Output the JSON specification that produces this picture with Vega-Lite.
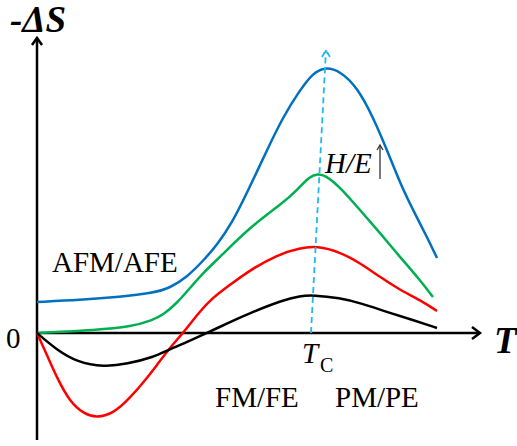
{
  "$schema": "https://vega.github.io/schema/vega-lite/v6.json",
  "width": 517,
  "height": 446,
  "autosize": {"type": "fit", "contains": "padding"},
  "padding": 0,
  "background": "white",
  "config": {"view": {"stroke": null}},
  "datasets": {
    "curves": [
      {"s": "blue", "x": 0, "y": 31}, {"s": "blue", "x": 43, "y": 33}, {"s": "blue", "x": 83, "y": 36}, {"s": "blue", "x": 116, "y": 40}, {"s": "blue", "x": 133, "y": 45}, {"s": "blue", "x": 150, "y": 56}, {"s": "blue", "x": 166, "y": 72}, {"s": "blue", "x": 180, "y": 88}, {"s": "blue", "x": 195, "y": 110}, {"s": "blue", "x": 210, "y": 140}, {"s": "blue", "x": 230, "y": 183}, {"s": "blue", "x": 246, "y": 216}, {"s": "blue", "x": 263, "y": 243}, {"s": "blue", "x": 276, "y": 260}, {"s": "blue", "x": 288, "y": 266}, {"s": "blue", "x": 303, "y": 262}, {"s": "blue", "x": 320, "y": 246}, {"s": "blue", "x": 336, "y": 216}, {"s": "blue", "x": 350, "y": 183}, {"s": "blue", "x": 363, "y": 150}, {"s": "blue", "x": 376, "y": 123}, {"s": "blue", "x": 390, "y": 96}, {"s": "blue", "x": 400, "y": 75},
      {"s": "green", "x": 0, "y": 0}, {"s": "green", "x": 60, "y": 3}, {"s": "green", "x": 93, "y": 6}, {"s": "green", "x": 116, "y": 13}, {"s": "green", "x": 126, "y": 18}, {"s": "green", "x": 140, "y": 30}, {"s": "green", "x": 153, "y": 45}, {"s": "green", "x": 166, "y": 60}, {"s": "green", "x": 183, "y": 76}, {"s": "green", "x": 213, "y": 106}, {"s": "green", "x": 246, "y": 130}, {"s": "green", "x": 260, "y": 143}, {"s": "green", "x": 273, "y": 157}, {"s": "green", "x": 281, "y": 159}, {"s": "green", "x": 288, "y": 158}, {"s": "green", "x": 303, "y": 146}, {"s": "green", "x": 323, "y": 123}, {"s": "green", "x": 343, "y": 100}, {"s": "green", "x": 363, "y": 76}, {"s": "green", "x": 383, "y": 53}, {"s": "green", "x": 396, "y": 36},
      {"s": "red", "x": 0, "y": 0}, {"s": "red", "x": 10, "y": -22}, {"s": "red", "x": 20, "y": -45}, {"s": "red", "x": 33, "y": -69}, {"s": "red", "x": 47, "y": -81}, {"s": "red", "x": 60, "y": -85}, {"s": "red", "x": 77, "y": -80}, {"s": "red", "x": 93, "y": -65}, {"s": "red", "x": 110, "y": -45}, {"s": "red", "x": 120, "y": -32}, {"s": "red", "x": 131, "y": -17}, {"s": "red", "x": 146, "y": 0}, {"s": "red", "x": 160, "y": 18}, {"s": "red", "x": 173, "y": 33}, {"s": "red", "x": 190, "y": 46}, {"s": "red", "x": 213, "y": 63}, {"s": "red", "x": 240, "y": 78}, {"s": "red", "x": 263, "y": 85}, {"s": "red", "x": 280, "y": 87}, {"s": "red", "x": 303, "y": 81}, {"s": "red", "x": 323, "y": 70}, {"s": "red", "x": 343, "y": 56}, {"s": "red", "x": 363, "y": 43}, {"s": "red", "x": 383, "y": 33}, {"s": "red", "x": 400, "y": 22},
      {"s": "black", "x": 0, "y": 0}, {"s": "black", "x": 20, "y": -17}, {"s": "black", "x": 40, "y": -29}, {"s": "black", "x": 67, "y": -34}, {"s": "black", "x": 90, "y": -31}, {"s": "black", "x": 117, "y": -24}, {"s": "black", "x": 131, "y": -17}, {"s": "black", "x": 150, "y": -9}, {"s": "black", "x": 170, "y": 0}, {"s": "black", "x": 193, "y": 11}, {"s": "black", "x": 213, "y": 20}, {"s": "black", "x": 246, "y": 33}, {"s": "black", "x": 263, "y": 37}, {"s": "black", "x": 276, "y": 38}, {"s": "black", "x": 303, "y": 35}, {"s": "black", "x": 323, "y": 30}, {"s": "black", "x": 350, "y": 21}, {"s": "black", "x": 376, "y": 13}, {"s": "black", "x": 400, "y": 5}
    ],
    "axes": [
      {"g": "v", "i": 0, "x": 0, "y": -107}, {"g": "v", "i": 1, "x": 0, "y": 294},
      {"g": "vh", "i": 0, "x": -5, "y": 288}, {"g": "vh", "i": 1, "x": 0, "y": 295}, {"g": "vh", "i": 2, "x": 5, "y": 288},
      {"g": "h", "i": 0, "x": 0, "y": 0}, {"g": "h", "i": 1, "x": 442, "y": 0},
      {"g": "hh", "i": 0, "x": 435, "y": 6}, {"g": "hh", "i": 1, "x": 443, "y": 0}, {"g": "hh", "i": 2, "x": 435, "y": -6}
    ],
    "tc": [
      {"g": "tc", "i": 0, "x": 274, "y": 0}, {"g": "tc", "i": 1, "x": 289, "y": 283},
      {"g": "tch", "i": 0, "x": 285, "y": 276}, {"g": "tch", "i": 1, "x": 289, "y": 283}, {"g": "tch", "i": 2, "x": 293, "y": 276}
    ],
    "harrow": [
      {"g": "ha", "i": 0, "x": 343, "y": 154}, {"g": "ha", "i": 1, "x": 343, "y": 188},
      {"g": "hah", "i": 0, "x": 340, "y": 183}, {"g": "hah", "i": 1, "x": 343, "y": 188}, {"g": "hah", "i": 2, "x": 346, "y": 183}
    ],
    "texts": [
      {"role": "axistitle", "x": -27, "y": 301, "t": "-ΔS"},
      {"role": "axistitle", "x": 457, "y": -20, "t": "T"},
      {"role": "label", "x": -31, "y": -15, "t": "0"},
      {"role": "label", "x": 15, "y": 61, "t": "AFM/AFE"},
      {"role": "label", "x": 178, "y": -74, "t": "FM/FE"},
      {"role": "label", "x": 298, "y": -74, "t": "PM/PE"},
      {"role": "symbol", "x": 265, "y": -30, "t": "T"},
      {"role": "symbol", "x": 288, "y": 160, "t": "H/E"},
      {"role": "sub", "x": 283, "y": -39, "t": "C"}
    ]
  },
  "encoding": {
    "x": {"field": "x", "type": "quantitative", "scale": {"domain": [-37, 480], "nice": false, "zero": false}, "axis": null},
    "y": {"field": "y", "type": "quantitative", "scale": {"domain": [-113, 333], "nice": false, "zero": false}, "axis": null}
  },
  "layer": [
    {
      "data": {"name": "axes"},
      "mark": {"type": "line", "color": "black", "strokeWidth": 2.5, "strokeCap": "butt", "strokeJoin": "miter"},
      "encoding": {"detail": {"field": "g"}, "order": {"field": "i"}}
    },
    {
      "data": {"name": "curves"},
      "mark": {"type": "line", "strokeWidth": 2.5, "interpolate": "basis"},
      "encoding": {
        "color": {"field": "s", "type": "nominal", "legend": null,
          "scale": {"domain": ["blue", "green", "red", "black"], "range": ["#0070C0", "#00B050", "#FF0000", "#000000"]}}
      }
    },
    {
      "data": {"name": "tc"},
      "mark": {"type": "line", "color": "#1FB8F0", "strokeWidth": 1.8, "strokeDash": [6, 4]},
      "encoding": {"detail": {"field": "g"}, "order": {"field": "i"}}
    },
    {
      "data": {"name": "harrow"},
      "mark": {"type": "line", "color": "#333333", "strokeWidth": 1.3},
      "encoding": {"detail": {"field": "g"}, "order": {"field": "i"}}
    },
    {
      "data": {"name": "texts"},
      "transform": [{"filter": "datum.role === 'label'"}],
      "mark": {"type": "text", "font": "Liberation Serif", "fontSize": 29, "align": "left", "baseline": "alphabetic", "color": "black"},
      "encoding": {"text": {"field": "t"}}
    },
    {
      "data": {"name": "texts"},
      "transform": [{"filter": "datum.role === 'symbol'"}],
      "mark": {"type": "text", "font": "Liberation Serif", "fontSize": 29, "fontStyle": "italic", "align": "left", "baseline": "alphabetic", "color": "black"},
      "encoding": {"text": {"field": "t"}}
    },
    {
      "data": {"name": "texts"},
      "transform": [{"filter": "datum.role === 'sub'"}],
      "mark": {"type": "text", "font": "Liberation Serif", "fontSize": 20, "align": "left", "baseline": "alphabetic", "color": "black"},
      "encoding": {"text": {"field": "t"}}
    },
    {
      "data": {"name": "texts"},
      "transform": [{"filter": "datum.role === 'axistitle'"}],
      "mark": {"type": "text", "font": "Liberation Serif", "fontSize": 37, "fontStyle": "italic", "fontWeight": "bold", "align": "left", "baseline": "alphabetic", "color": "black"},
      "encoding": {"text": {"field": "t"}}
    }
  ]
}
